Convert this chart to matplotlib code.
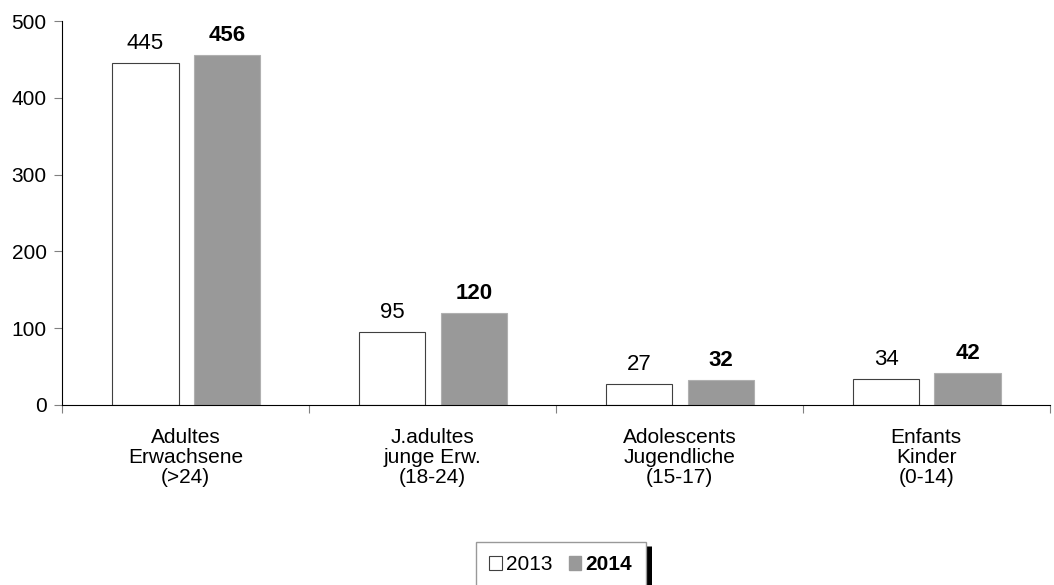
import numpy as np
import matplotlib.pyplot as plt
from matplotlib.patches import Patch
from matplotlib.lines import Line2D

# Daten
kategorien = ['Adultes\nErwachsene\n(>24)', 'J.adultes\njunge Erw.\n(18-24)',
              'Adolescents\nJugendliche\n(15-17)', 'Enfants\nKinder\n(0-14)']
werte_2013 = [445, 95, 27, 34]
werte_2014 = [456, 120, 32, 42]

plt.rcParams['font.family'] = ['Liberation Sans', 'DejaVu Sans']

fig = plt.figure(figsize=(10.54, 5.85), dpi=100)
ax = fig.add_axes([0.0588, 0.3077, 0.9372, 0.6564])

x = np.arange(len(kategorien))
breite = 0.27
ax.bar(x - 0.163, werte_2013, breite, color='white', edgecolor='#404040', linewidth=0.8)
ax.bar(x + 0.168, werte_2014, breite, color='#999999', edgecolor='#b0b0b0', linewidth=0.8)

# Werte über den Balken
for i in range(len(x)):
    ax.text(x[i] - 0.163, werte_2013[i] + 12, str(werte_2013[i]), ha='center', va='bottom', fontsize=16)
    ax.text(x[i] + 0.168, werte_2014[i] + 12, str(werte_2014[i]), ha='center', va='bottom',
            fontsize=16, fontweight='bold')

ax.set_xlim(-0.5, len(kategorien) - 0.5)
ax.set_ylim(0, 500)
ax.set_yticks([0, 100, 200, 300, 400, 500])
ax.tick_params(axis='y', labelsize=15, length=6, color='#808080', pad=5)

# Kategorie-Trennstriche unten
ax.set_xticks(np.arange(-0.5, len(kategorien)), minor=False)
ax.set_xticklabels([])
ax.tick_params(axis='x', length=6, color='#808080', direction='out')
for i, k in enumerate(kategorien):
    ax.text(x[i], -30, k, ha='center', va='top', fontsize=15, linespacing=1.08)

ax.spines['top'].set_visible(False)
ax.spines['right'].set_visible(False)
ax.spines['left'].set_color('black')
ax.spines['bottom'].set_color('black')

# Legende
griffe = [Patch(facecolor='white', edgecolor='#404040', linewidth=0.8),
          Patch(facecolor='#999999', edgecolor='#999999')]
leg = fig.legend(griffe, ['2013', '2014'], loc='upper center', bbox_to_anchor=(0.532, 0.074),
                 ncol=2, fontsize=15, frameon=True, fancybox=False, borderaxespad=0,
                 handlelength=0.6, handleheight=0.6, handletextpad=0.2, columnspacing=0.8,
                 borderpad=0.65)
leg.get_frame().set_edgecolor('#808080')
leg.get_frame().set_linewidth(1.0)
leg.get_texts()[1].set_fontweight('bold')

# schwarzer Schatten rechts neben der Legende
fig.canvas.draw()
bb = leg.get_window_extent()
fx = (bb.x1 + 3) / fig.bbox.width
fy = (bb.y1 - 4) / fig.bbox.height
fig.add_artist(Line2D([fx, fx], [0, fy], transform=fig.transFigure,
                      color='black', linewidth=3.6, solid_capstyle='butt'))

fig.savefig('out.png', dpi=100)
